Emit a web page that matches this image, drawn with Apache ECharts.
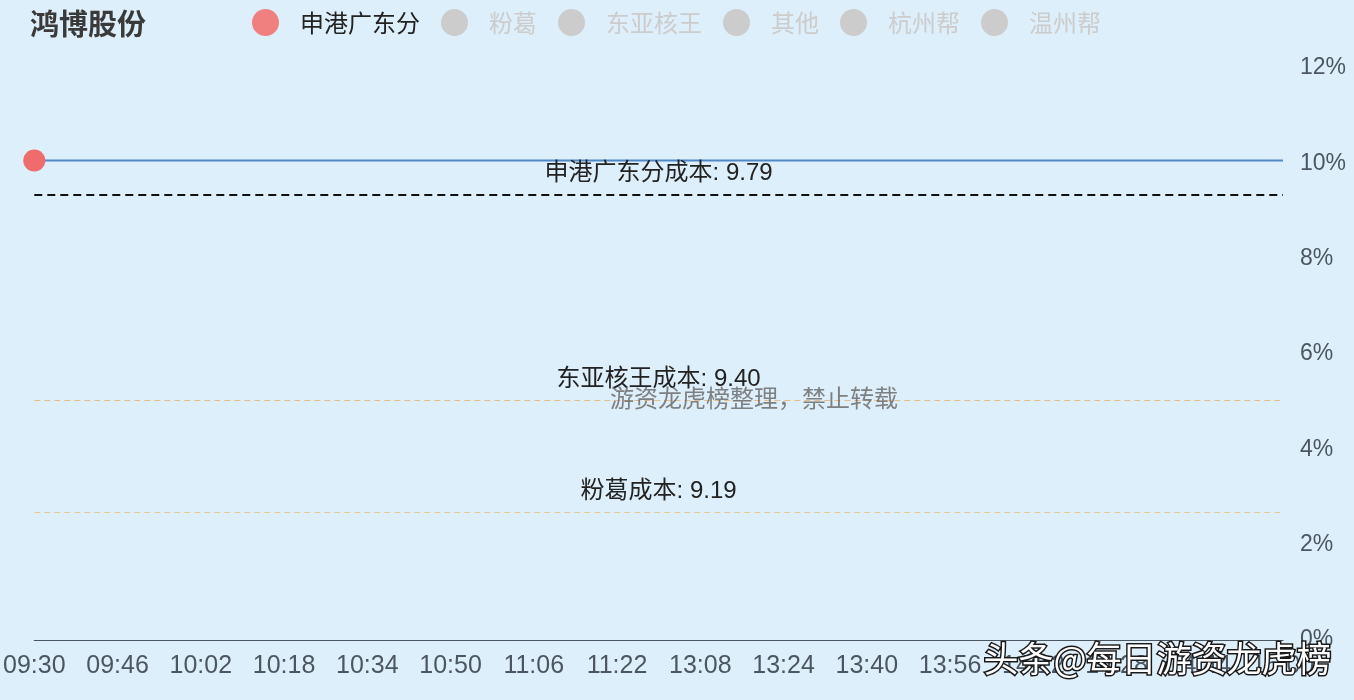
<!DOCTYPE html>
<html>
<head>
<meta charset="utf-8">
<script src="https://cdn.jsdelivr.net/npm/echarts@6/dist/echarts.min.js"></script>
<style>
html,body{margin:0;padding:0;background:#ddeffa;}
#main{width:1354px;height:700px;}
</style>
</head>
<body>
<div id="main"></div>
<script>
// ---- data ----
var stockName = '鸿博股份';
var legendNames = ['申港广东分', '粉葛', '东亚核王', '其他', '杭州帮', '温州帮'];
var morningStart = '09:30', morningEnd = '11:30', afternoonStart = '13:01', afternoonEnd = '15:00';
// price line (percent change vs. previous close): flat at limit-up all day
var lineTimes = ['09:30', '15:00'];
var lineValues = [10.06, 10.06];
// cost lines
var costNames = ['申港广东分成本', '东亚核王成本', '粉葛成本'];
var costPrices = [9.79, 9.40, 9.19];
var costPct = [9.35, 5.03, 2.68];
var yTicks = [0, 2, 4, 6, 8, 10, 12];

function buildMinutes(a, b) {
  var out = [];
  var pa = a.split(':'), pb = b.split(':');
  var s = (+pa[0]) * 60 + (+pa[1]), e = (+pb[0]) * 60 + (+pb[1]);
  for (var m = s; m <= e; m++) {
    var h = Math.floor(m / 60), mm = m % 60;
    out.push((h < 10 ? '0' : '') + h + ':' + (mm < 10 ? '0' : '') + mm);
  }
  return out;
}
var categories = buildMinutes(morningStart, morningEnd).concat(buildMinutes(afternoonStart, afternoonEnd));

var chart = echarts.init(document.getElementById('main'));
var font = '"Liberation Sans", "Noto Sans CJK SC", sans-serif';
var cjk = '"Noto Sans CJK SC", sans-serif';

var markData = costNames.map(function (n, i) {
  var isMain = i === 0;
  return {
    yAxis: costPct[i],
    label: { formatter: n + ': ' + costPrices[i].toFixed(2) },
    lineStyle: isMain
      ? { color: '#111', width: 2, type: [8, 5] }
      : { color: i === 1 ? '#e6bd88' : '#e8c896', width: 1.2, type: [6, 4] }
  };
});

var series = legendNames.map(function (n, i) {
  if (i === 0) {
    return {
      name: n,
      type: 'line',
      data: lineTimes.map(function (t, k) {
        return k === 0
          ? { value: [t, lineValues[k]], symbol: 'circle', symbolSize: 22, itemStyle: { color: '#f06b6b' } }
          : { value: [t, lineValues[k]], symbol: 'none' };
      }),
      showSymbol: true,
      symbol: 'none',
      lineStyle: { color: '#5088c8', width: 2 },
      itemStyle: { color: '#f07f7f' },
      z: 3,
      markLine: {
        silent: true,
        symbol: 'none',
        label: {
          position: 'middle',
          distance: 9,
          color: '#222',
          fontSize: 24,
          fontFamily: font
        },
        data: markData
      }
    };
  }
  return { name: n, type: 'line', data: [] };
});

var selected = {};
legendNames.forEach(function (n, i) { selected[n] = i === 0; });

chart.setOption({
  backgroundColor: '#ddeffa',
  animation: false,
  title: {
    text: stockName,
    left: 25,
    top: 4,
    textStyle: { fontSize: 29, fontWeight: 'bold', color: '#3a3a3a', fontFamily: cjk }
  },
  legend: {
    data: legendNames,
    selected: selected,
    left: 247,
    top: 4,
    icon: 'circle',
    itemWidth: 27,
    itemHeight: 27,
    itemGap: 21,
    inactiveColor: '#cccccc',
    textStyle: { fontSize: 24, color: '#222', fontFamily: cjk, padding: [0, 0, 0, 16] }
  },
  grid: { left: 30, right: 71, top: 68, bottom: 60, containLabel: false },
  xAxis: {
    type: 'category',
    data: categories,
    boundaryGap: false,
    axisLine: { lineStyle: { color: '#4c5660', width: 1.2 } },
    axisTick: { show: false },
    axisLabel: { interval: 15, color: '#4c5660', fontSize: 25, margin: 14, fontFamily: font, showMaxLabel: true },
    splitLine: { show: false }
  },
  yAxis: {
    type: 'value',
    position: 'right',
    min: yTicks[0],
    max: yTicks[yTicks.length - 1],
    interval: 2,
    axisLine: { show: false },
    axisTick: { show: false },
    splitLine: { show: false },
    axisLabel: { color: '#4c5660', fontSize: 23, margin: 17, fontFamily: font, formatter: '{value}%' }
  },
  graphic: [
    {
      type: 'text',
      left: 610,
      top: 386,
      z: 100,
      style: { text: '游资龙虎榜整理，禁止转载', fill: 'rgba(100,100,100,0.8)', fontSize: 24, fontFamily: cjk }
    },
    {
      type: 'text',
      left: 982,
      top: 640,
      z: 100,
      style: { text: '头条@每日游资龙虎榜', fill: '#ffffff', stroke: '#1a1a1a', lineWidth: 3, fontSize: 35, fontFamily: cjk }
    }
  ],
  series: series
});
</script>
</body>
</html>
